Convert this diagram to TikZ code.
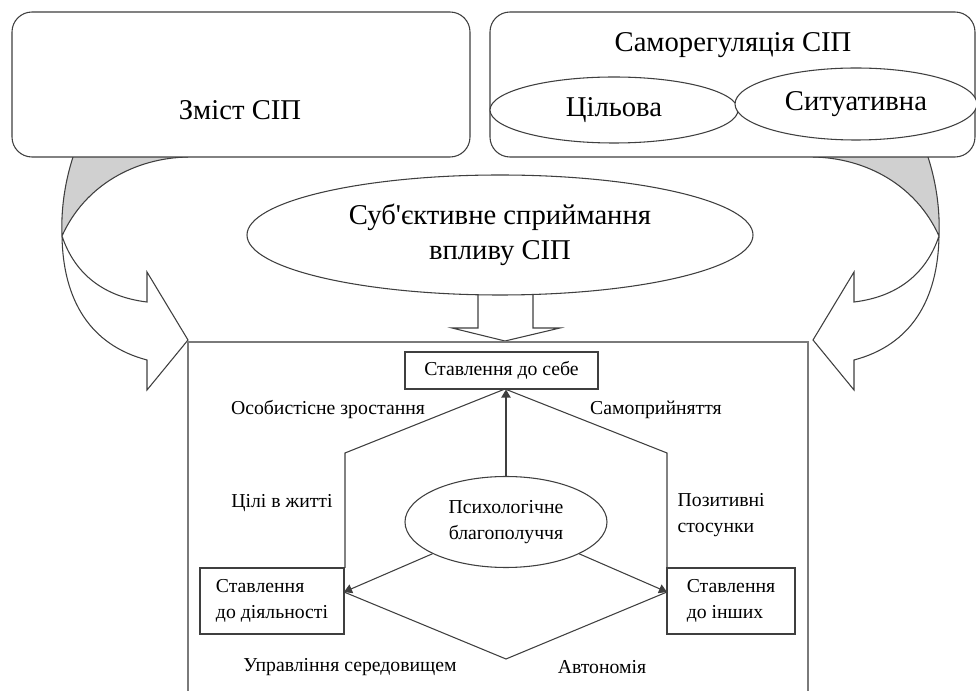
\documentclass[tikz,border=0pt]{standalone}
\usepackage{fontspec}
\setmainfont{Liberation Serif}
\usetikzlibrary{arrows.meta, shapes.geometric}
\definecolor{lngray}{HTML}{3F3F3F}
\definecolor{frgray}{HTML}{7A7A7A}
\definecolor{backside}{HTML}{D0D0D0}

\begin{document}
\begin{tikzpicture}[x=0.75pt, y=-0.75pt, >={Triangle[length=6pt, width=7pt]},
  topbox/.style={draw=lngray, line width=0.8pt, rounded corners=15pt, fill=white, minimum height=108.75pt},
  bigtxt/.style={font=\fontsize{21.5}{26}\selectfont},
  oval/.style={draw=lngray, line width=0.8pt, ellipse, fill=white, inner sep=0pt},
  relbox/.style={draw=lngray, line width=0.8pt, fill=white, font=\fontsize{14.8}{20}\selectfont, align=left, minimum height=49.5pt},
  lbl/.style={font=\fontsize{14.8}{19}\selectfont, align=left},
  ribbon/.style={draw=lngray, line width=0.8pt, fill=white}]

\useasboundingbox (0,0) rectangle (976,691);

% --- curved arrows from the top boxes ---
\foreach \sh/\sc in {0/1, 750.75/-1} {
  \begin{scope}[xshift=\sh pt, xscale=\sc]
    \fill[white] (73,157) .. controls (64,185) and (61,212) .. (62,236)
      .. controls (63,300) and (90,345) .. (147,360) -- (147,390) -- (188,340)
      -- (147,272) -- (147,302) .. controls (105,297) and (75,275) .. (62,236)
      .. controls (85,185) and (135,158) .. (188,157) -- cycle;
    % back side of the twisted band
    \fill[backside] (73,157) .. controls (64,185) and (61,212) .. (62,236)
      .. controls (85,185) and (135,158) .. (188,157) -- cycle;
    \draw[lngray, line width=0.8pt] (73,157) .. controls (64,185) and (61,212) .. (62,236)
      .. controls (63,300) and (90,345) .. (147,360) -- (147,390) -- (188,340)
      -- (147,272) -- (147,302) .. controls (105,297) and (75,275) .. (62,236)
      .. controls (85,185) and (135,158) .. (188,157);
  \end{scope}
}

% --- top boxes ---
\node[topbox, minimum width=343.5pt] (zmist) at (241,84.5) {};
\node[bigtxt] (zmisttxt) at (240,110) {Зміст СІП};

\node[topbox, minimum width=363.75pt] (samoreg) at (732.5,84.5) {};
\node[bigtxt] (samoregtxt) at (733,45) {Саморегуляція СІП};
\node[oval, bigtxt, minimum width=186pt, minimum height=49.5pt] (cil) at (614,110) {Цільова};
\node[oval, bigtxt, minimum width=181.5pt, minimum height=54pt] (sit) at (856,104) {Ситуативна};

% --- block arrow down ---
\draw[ribbon] (478,290) -- (478,328) -- (452,328) -- (505,341) -- (560,328) -- (533,328) -- (533,290);

\node[oval, bigtxt, align=center, minimum width=379.5pt, minimum height=90pt] (subj) at (500,235)
  {Суб\textquotesingle єктивне сприймання\\впливу СІП};

% --- frame of the lower part ---
\draw[frgray, line width=1.1pt] (188,691) -- (188,342) -- (808,342) -- (808,691);

% --- hexagon ---
\coordinate (hexT) at (505,389);
\coordinate (hexL) at (345,453);
\coordinate (hexR) at (667,453);
\coordinate (inL) at (344,592);
\coordinate (inR) at (667,592);
\coordinate (hexB) at (506,659);
\draw[lngray, line width=0.8pt] (hexT) -- (hexL) -- (345,568);
\draw[lngray, line width=0.8pt] (hexT) -- (hexR) -- (667,568);
\draw[lngray, line width=0.8pt] (inL) -- (hexB) -- (inR);

\node[relbox, minimum width=144.75pt, minimum height=27.75pt] (self) at (501.5,370.5) {Ставлення до себе};
\node[relbox, minimum width=108pt] (actv) at (272,601) {Ставлення\\до діяльності};
\node[relbox, minimum width=96pt] (othr) at (731,601) {Ставлення\\до інших};

\node[oval, lbl, align=center, minimum width=151.5pt, minimum height=68.25pt] (psy) at (506,522)
  {Психологічне\\благополуччя};

\draw[->, lngray, line width=0.8pt] (psy.north) -- (psy.north |- self.south);
\draw[->, lngray, line width=0.8pt] (psy) -- (inL);
\draw[->, lngray, line width=0.8pt] (psy) -- (inR);

% --- labels on the sides ---
\node[lbl] (osob) at (328,410) {Особистісне зростання};
\node[lbl] (samopr) at (656,410) {Самоприйняття};
\node[lbl] (cili) at (282,503) {Цілі в житті};
\node[lbl, anchor=west] (pozyt) at (673,515) {Позитивні\\стосунки};
\node[lbl] (uprav) at (350,667) {Управління середовищем};
\node[lbl] (avton) at (602,667) {Автономія};

\end{tikzpicture}
\end{document}
